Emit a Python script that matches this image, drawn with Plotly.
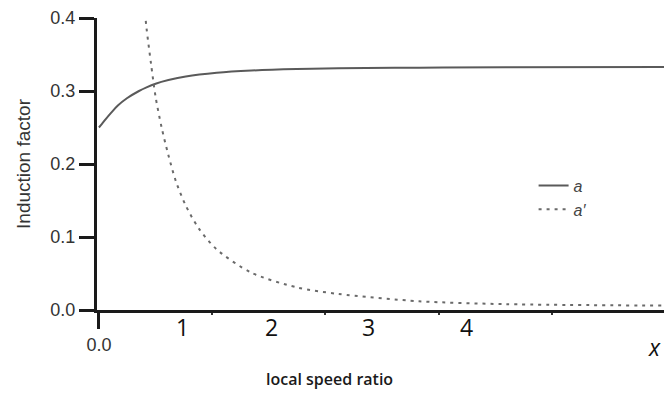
import plotly.graph_objects as go

# Induction factors against local speed ratio (optimum rotor)
x_a = [0.0, 0.04, 0.09, 0.16, 0.25, 0.37, 0.53, 0.63, 0.75, 0.92, 1.15, 1.56, 2.02, 2.62, 3.17, 4.24, 5.39, 7.5]
a_vals = [0.250, 0.255, 0.2615, 0.270, 0.280, 0.290, 0.300, 0.305, 0.310, 0.315, 0.320, 0.325, 0.328, 0.330, 0.331, 0.332, 0.3325, 0.333]

x_ap = [0.60, 0.63, 0.69, 0.75, 0.83, 0.92, 1.02, 1.15, 1.32, 1.56, 2.02, 2.62, 3.17, 4.24, 5.39, 7.5]
ap_vals = [0.418, 0.386, 0.337, 0.292, 0.250, 0.212, 0.176, 0.143, 0.112, 0.083, 0.051, 0.031, 0.022, 0.012, 0.008, 0.006]

y_ticks = [0.0, 0.1, 0.2, 0.3, 0.4]
y_ticktext = ["0.0", "0.1", "0.2", "0.3", "0.4"]

# secondary labels along the speed-ratio axis
ratio_label_pos = [1.10, 2.28, 3.57, 4.87]
ratio_label_text = ["1", "2", "3", "4"]

fig = go.Figure()
fig.add_trace(go.Scatter(
    x=x_a, y=a_vals, name="a", mode="lines",
    line=dict(color="#5a5a5a", width=2, shape="spline", smoothing=1.0),
))
fig.add_trace(go.Scatter(
    x=x_ap, y=ap_vals, name="a\u2032", mode="lines",
    line=dict(color="#6a6a6a", width=2, dash="3px,5px", shape="spline", smoothing=0.8),
))

axis_font = dict(family="Liberation Sans, Arial, sans-serif", size=18, color="#333")

fig.update_layout(
    width=664, height=394,
    margin=dict(l=97, r=0, t=18, b=84),
    paper_bgcolor="white", plot_bgcolor="white",
    showlegend=True,
    legend=dict(
        x=0.77, y=0.385, xanchor="left", yanchor="middle",
        bgcolor="rgba(0,0,0,0)",
        font=dict(family="Liberation Sans, Arial, sans-serif", size=16, color="#444", style="italic"),
        tracegroupgap=2,
    ),
    xaxis=dict(
        range=[-0.026, 7.484],
        showgrid=False, zeroline=False,
        showline=True, linecolor="#1a1a1a", linewidth=3,
        ticks="outside", ticklen=16, tickwidth=3, tickcolor="#1a1a1a",
        tickvals=[0.0], ticktext=["0.0"], tickfont=axis_font,
        minor=dict(tickvals=[1.5, 3.0, 4.5, 6.0], ticks="outside", ticklen=2, tickwidth=2, tickcolor="#333"),
    ),
    yaxis=dict(
        range=[0, 0.4],
        showgrid=False, zeroline=False,
        showline=True, linecolor="#1a1a1a", linewidth=3,
        ticks="outside", ticklen=15, tickwidth=3, tickcolor="#1a1a1a",
        tickvals=y_ticks, ticktext=y_ticktext, tickfont=axis_font,
        title=dict(text="Induction factor", font=dict(family="Liberation Sans, Arial, sans-serif", size=19, color="#333"), standoff=15),
    ),
)

for pos, txt in zip(ratio_label_pos, ratio_label_text):
    fig.add_annotation(
        x=pos, y=0, xref="x", yref="paper", yanchor="middle", yshift=-17,
        text=txt, showarrow=False,
        font=dict(family="Open Sans, sans-serif", size=23, color="#111"),
    )

fig.add_annotation(
    x=1, y=0, xref="paper", yref="paper", xanchor="right", yanchor="middle",
    xshift=-1, yshift=-37, text="x", showarrow=False,
    font=dict(family="Open Sans, sans-serif", size=23, color="#111", style="italic"),
)

fig.add_annotation(
    x=3.06, y=0, xref="x", yref="paper", yanchor="middle", yshift=-69,
    text="local speed ratio", showarrow=False,
    font=dict(family="Open Sans, sans-serif", size=16, color="#1a1a1a", weight=600),
)

fig.write_html("out.html")
